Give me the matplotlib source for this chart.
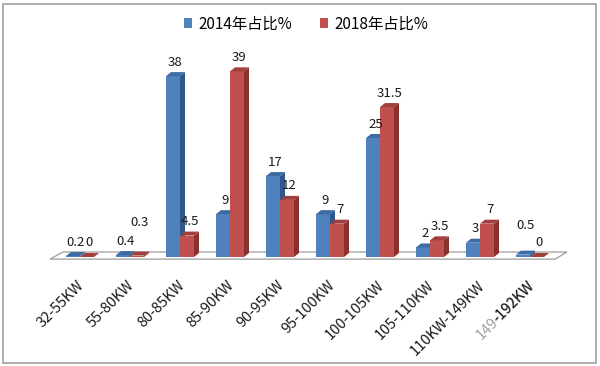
import matplotlib
matplotlib.use("Agg")
import matplotlib.pyplot as plt
import matplotlib.transforms as mtransforms
from matplotlib.patches import Polygon, Rectangle, Patch

plt.rcParams['font.family'] = ['Noto Sans CJK SC', 'DejaVu Sans']

categories = ['32-55KW', '55-80KW', '80-85KW', '85-90KW', '90-95KW', '95-100KW',
              '100-105KW', '105-110KW', '110KW-149KW', '149-192KW']
share_2014 = [0.2, 0.4, 38, 9, 17, 9, 25, 2, 3, 0.5]
share_2018 = [0, 0.3, 4.5, 39, 12, 7, 31.5, 3.5, 7, 0]
series_names = ['2014年占比%', '2018年占比%']

W, H = 600, 366
fig = plt.figure(figsize=(W / 100, H / 100), dpi=100)
fig.patch.set_facecolor('white')

# axes geometry (pixels)
x0_px, px_per_cat = 55, 50.0
y0_px, px_per_unit = 257, 4.76
ymax = 40
ax = fig.add_axes([x0_px / W, 1 - y0_px / H, len(categories) * px_per_cat / W,
                   ymax * px_per_unit / H])
ax.set_xlim(-0.5, len(categories) - 0.5)
ax.set_ylim(0, ymax)
ax.axis('off')

# depth offsets in data units
dx = 5 / px_per_cat
dy = 4 / px_per_unit
bw = 14 / px_per_cat

# floor slab
fl = [(-0.6, -0.45), (len(categories) - 0.5, -0.45),
      (len(categories) - 0.26, 1.05), (-0.34, 1.05)]
ax.add_patch(Polygon(fl, closed=True, facecolor='white', edgecolor='#A6A6A6',
                     lw=1.0, clip_on=False, zorder=1))

colors = [dict(front='#4F81BD', side='#30578A', top='#3C6AA3'),
          dict(front='#C0504D', side='#8A302D', top='#A23F3C')]

def draw_bar(x_left, v, c, z):
    ax.bar(x_left, v, width=bw, align='edge', color=c['front'], lw=0,
           zorder=z, clip_on=False)
    side = [(x_left + bw, 0), (x_left + bw + dx, dy), (x_left + bw + dx, v + dy),
            (x_left + bw, v)]
    top = [(x_left, v), (x_left + bw, v), (x_left + bw + dx, v + dy), (x_left + dx, v + dy)]
    ax.add_patch(Polygon(side, closed=True, facecolor=c['side'], lw=0, zorder=z,
                         clip_on=False))
    ax.add_patch(Polygon(top, closed=True, facecolor=c['top'], lw=0, zorder=z,
                         clip_on=False))

# extra label lift (pixels) where labels were moved to avoid overlap
label_lift = {(1, 1): 19, (9, 0): 15}

z = 2
for i in range(len(categories)):
    for s, vals in enumerate([share_2014, share_2018]):
        v = vals[i]
        xl = i - bw if s == 0 else i
        draw_bar(xl, v, colors[s], z)
        z += 1
        lift = label_lift.get((i, s), 0)
        ax.annotate(f'{v:g}', xy=(xl + bw / 2 + dx / 2, v + dy), xytext=(0, (10 + lift) * 0.72),
                    textcoords='offset points', ha='center', va='center',
                    fontsize=9.5, color='#1a1a1a', zorder=50, annotation_clip=False)

# category labels
off = mtransforms.offset_copy(ax.transData, fig, x=5, y=-29, units='dots')
tick_fs = 10.5
for i, cat in enumerate(categories):
    if cat == '149-192KW':
        ax.text(i, 0, cat, transform=off, rotation=45, rotation_mode='anchor',
                ha='right', va='baseline', fontsize=tick_fs, color='#A0A0A0')
        ax.text(i, 0, '-192KW', transform=off, rotation=45, rotation_mode='anchor',
                ha='right', va='baseline', fontsize=tick_fs, color='#1a1a1a')
    else:
        ax.text(i, 0, cat, transform=off, rotation=45, rotation_mode='anchor',
                ha='right', va='baseline', fontsize=tick_fs, color='#1a1a1a')

# legend
handles = [Patch(facecolor=colors[0]['front']), Patch(facecolor=colors[1]['front'])]
fig.legend(handles, series_names, ncol=2, loc='center',
           bbox_to_anchor=(306 / W, 1 - 24 / H), frameon=False, fontsize=11,
           handlelength=0.55, handleheight=0.55, columnspacing=1.8, handletextpad=0.4)

# outer border
fig.add_artist(Rectangle((3 / W, 3 / H), 593 / W, 359 / H, transform=fig.transFigure,
                         fill=False, edgecolor='#A0A0A0', lw=1.2))

fig.savefig('out.png', dpi=100)
